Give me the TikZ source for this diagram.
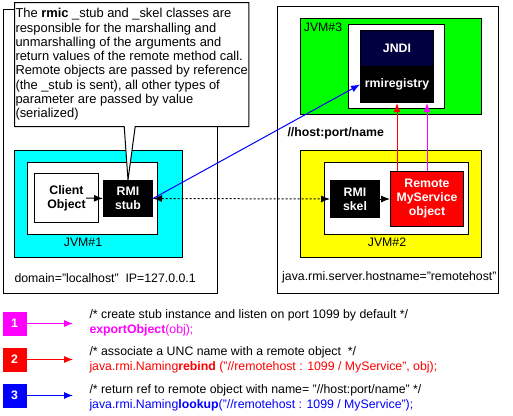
\documentclass[tikz,border=0pt]{standalone}
\usepackage{fontspec}
\setmainfont{Liberation Sans}
\usetikzlibrary{calc,arrows.meta,shapes.callouts}

\definecolor{jndiblue}{RGB}{0,0,64}
\definecolor{aqua}{RGB}{0,255,255}
\definecolor{lime}{RGB}{0,255,0}
\definecolor{yell}{RGB}{255,255,0}
\definecolor{fuchsia}{RGB}{255,0,255}
\definecolor{pured}{RGB}{255,0,0}
\definecolor{puble}{RGB}{0,0,255}

\begin{document}
\begin{tikzpicture}[x=1pt, y=-1pt, line width=1pt, >={Latex[length=9pt,width=7pt]},
		every node/.style={font=\fontsize{12.3}{14.3}\selectfont},
		box/.style={draw, anchor=north west, inner sep=0pt, align=center},
		blk/.style={box, fill=black, text=white, font=\fontsize{12.3}{14}\selectfont\bfseries},
		legbox/.style={anchor=north west, minimum width=24pt, minimum height=24pt, inner sep=0pt, text=white, font=\fontsize{12.3}{14}\selectfont\bfseries},
		code/.style={anchor=north west, inner sep=0pt, align=left, font=\fontsize{12.3}{14.7}\selectfont}]
		\useasboundingbox (0,0) rectangle (513,415);

		\coordinate (hostl)   at (3,   9);
		\coordinate (hostr)   at (277, 6);
		\coordinate (jvmone)  at (14,  150);
		\coordinate (jvmtwo)  at (300, 150);
		\coordinate (jvmthree) at (300, 18);
		\coordinate (notepos) at (14,  2);

		\node[box, minimum width=214pt, minimum height=284pt] (HL) at (hostl) {};
		\node[box, minimum width=221pt, minimum height=287pt] (HR) at (hostr) {};

		\node[box, fill=aqua, minimum width=168pt, minimum height=107pt] (J1) at (jvmone) {};
		\node[box, fill=white, minimum width=130pt, minimum height=72pt] (IN1) at (27,162) {};
		\node[box, fill=white, minimum width=64pt, minimum height=49pt, font=\fontsize{12.3}{14}\selectfont\bfseries] (CLI) at (34,173) {Client\\Object};
		\node[blk, minimum width=49pt, minimum height=36pt] (STUB) at (103,180) {RMI\\stub};

		\node[box, fill=yell, minimum width=181pt, minimum height=107pt] (J2) at (jvmtwo) {};
		\node[box, fill=white, minimum width=144pt, minimum height=72pt] (IN2) at (324,162) {};
		\node[blk, minimum width=49pt, minimum height=37pt] (SKEL) at (330,180) {RMI\\skel};
		\node[blk, fill=pured, minimum width=73pt, minimum height=55pt] (REM) at (390,171) {Remote\\MyService\\object};

		\node[box, fill=lime, minimum width=181pt, minimum height=96pt] (J3) at (jvmthree) {};
		\node[box, fill=white, minimum width=96pt, minimum height=84pt] (IN3) at (348,24) {};
		\node[blk, fill=jndiblue, minimum width=73pt, minimum height=36pt] (JNDI) at (360,30) {JNDI};
		\node[blk, minimum width=73pt, minimum height=36pt] (REG) at (360,66) {rmiregistry};

		\node (L1) at (83,242) {JVM\#1};
		\node (L2) at (387,242) {JVM\#2};
		\node (L3) at (323,27) {JVM\#3};
		\node[anchor=west, inner sep=0pt] (DOM) at (14,278) {domain="localhost"~~IP=127.0.0.1};
		\node[anchor=east, inner sep=0pt] (HOSTN) at (497,277) {java.rmi.server.hostname="remotehost"};
		\node[anchor=west, inner sep=0pt, font=\fontsize{12.3}{14}\selectfont\bfseries] (URL) at (287,133) {//host:port/name};

		\node[draw, fill=white, rectangle callout, callout absolute pointer={(STUB.north)}, callout pointer width=11pt,
			minimum width=227pt, minimum height=124pt, anchor=north west, align=left, inner sep=1pt,
			font=\fontsize{12.9}{14.3}\selectfont] (NOTE) at (notepos)
			{The \textbf{rmic} \_stub and \_skel classes are\\responsible for the marshalling and\\unmarshalling of the arguments and\\return values of the remote method call.\\Remote objects are passed by reference\\(the \_stub is sent), all other types of\\parameter are passed by value\\(serialized)};

		\coordinate (redfoot) at ($(REM.north)+(-30,0)$);
		\draw[->] ($(CLI.east)+(-13,0)$) -- (STUB.west);
		\draw[->] (SKEL.east) -- (REM.west);
		\draw[<->, dash pattern=on 2pt off 2pt] (STUB.east) -- (SKEL.west);
		\draw[->, puble] (STUB.east) -- (REG.west);
		\draw[->, pured] (redfoot) -- (redfoot |- REG.south);
		\draw[->, fuchsia] (REM.north) -- (REM.north |- REG.south);

		\node[legbox, fill=fuchsia] (ONE) at (2,311) {1};
		\node[legbox, fill=pured] (TWO) at (2,347) {2};
		\node[legbox, fill=puble] (THREE) at (2,383) {3};
		\draw[->, fuchsia] (ONE.east) -- ++(46,0);
		\draw[->, pured] (TWO.east) -- ++(46,0);
		\draw[->, puble] (THREE.east) -- ++(46,0);

		\node[code] (C1) at (89,309) {/* create stub instance and listen on port 1099 by default */\\\textcolor{fuchsia}{\textbf{exportObject}(obj);}};
		\node[code] (C2) at (89,346) {/* associate a UNC name with a remote object~~*/\\\textcolor{pured}{java.rmi.Naming\textbf{rebind} ("//remotehost : 1099 / MyService", obj);}};
		\node[code] (C3) at (89,384) {/* return ref to remote object with name= "//host:port/name" */\\\textcolor{puble}{java.rmi.Naming\textbf{lookup}("//remotehost : 1099 / MyService");}};
	\end{tikzpicture}
\end{document}
